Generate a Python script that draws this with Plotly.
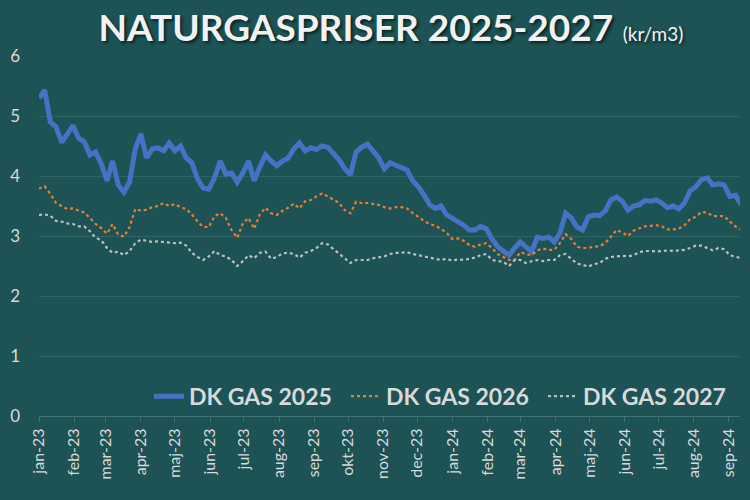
import pandas as pd
import plotly.graph_objects as go

start_date = "2023-01-01"
step = "5D"

dk_gas_2025 = [5.30, 5.43, 4.90, 4.82, 4.56, 4.70, 4.84, 4.63, 4.57, 4.35,
               4.40, 4.20, 3.92, 4.25, 3.85, 3.73, 3.90, 4.45, 4.70, 4.30,
               4.45, 4.47, 4.42, 4.55, 4.42, 4.50, 4.30, 4.22, 3.95, 3.80,
               3.78, 3.97, 4.25, 4.03, 4.05, 3.90, 4.05, 4.25, 3.92, 4.15,
               4.35, 4.25, 4.17, 4.25, 4.30, 4.45, 4.55, 4.42, 4.47, 4.44,
               4.50, 4.48, 4.37, 4.27, 4.12, 4.02, 4.40, 4.48, 4.53, 4.43,
               4.30, 4.12, 4.22, 4.18, 4.13, 4.10, 3.92, 3.82, 3.68, 3.52,
               3.46, 3.50, 3.35, 3.30, 3.24, 3.18, 3.10, 3.10, 3.16, 3.12,
               2.95, 2.82, 2.75, 2.68, 2.80, 2.90, 2.82, 2.74, 2.98, 2.96,
               2.98, 2.90, 3.05, 3.38, 3.30, 3.15, 3.10, 3.32, 3.35, 3.34,
               3.42, 3.60, 3.65, 3.58, 3.43, 3.50, 3.52, 3.59, 3.58, 3.60,
               3.55, 3.47, 3.50, 3.45, 3.55, 3.75, 3.82, 3.94, 3.97, 3.85,
               3.87, 3.85, 3.66, 3.68, 3.52]

dk_gas_2026 = [3.79, 3.83, 3.70, 3.55, 3.50, 3.45, 3.46, 3.43, 3.39, 3.30,
               3.20, 3.13, 3.04, 3.20, 3.02, 2.99, 3.15, 3.45, 3.42, 3.44,
               3.48, 3.50, 3.55, 3.50, 3.53, 3.48, 3.45, 3.36, 3.24, 3.15,
               3.15, 3.33, 3.38, 3.30, 3.10, 2.97, 3.21, 3.30, 3.12, 3.36,
               3.47, 3.38, 3.35, 3.42, 3.47, 3.54, 3.46, 3.58, 3.60, 3.66,
               3.71, 3.66, 3.60, 3.55, 3.43, 3.38, 3.57, 3.55, 3.55, 3.53,
               3.52, 3.48, 3.46, 3.48, 3.48, 3.46, 3.38, 3.32, 3.25, 3.20,
               3.17, 3.12, 3.05, 2.95, 2.96, 2.92, 2.85, 2.82, 2.86, 2.88,
               2.80, 2.70, 2.65, 2.60, 2.60, 2.73, 2.70, 2.68, 2.76, 2.79,
               2.77, 2.77, 2.88, 3.03, 2.95, 2.82, 2.80, 2.80, 2.82, 2.83,
               2.88, 3.00, 3.10, 3.06, 3.00, 3.09, 3.12, 3.16, 3.17, 3.18,
               3.16, 3.11, 3.11, 3.12, 3.18, 3.28, 3.32, 3.40, 3.39, 3.33,
               3.33, 3.33, 3.24, 3.16, 3.10]

dk_gas_2027 = [3.35, 3.36, 3.34, 3.25, 3.24, 3.21, 3.20, 3.16, 3.16, 3.08,
               2.97, 2.93, 2.80, 2.72, 2.74, 2.68, 2.75, 2.88, 2.94, 2.92,
               2.90, 2.91, 2.90, 2.90, 2.88, 2.89, 2.84, 2.72, 2.65, 2.60,
               2.66, 2.75, 2.68, 2.66, 2.60, 2.50, 2.58, 2.68, 2.63, 2.72,
               2.74, 2.62, 2.65, 2.71, 2.72, 2.70, 2.64, 2.72, 2.75, 2.80,
               2.88, 2.86, 2.78, 2.70, 2.62, 2.55, 2.60, 2.60, 2.60, 2.63,
               2.64, 2.66, 2.70, 2.72, 2.72, 2.73, 2.70, 2.68, 2.66, 2.64,
               2.62, 2.60, 2.62, 2.59, 2.61, 2.60, 2.62, 2.64, 2.68, 2.70,
               2.60, 2.58, 2.57, 2.50, 2.60, 2.60, 2.55, 2.58, 2.60, 2.58,
               2.60, 2.60, 2.68, 2.70, 2.62, 2.54, 2.52, 2.49, 2.53, 2.55,
               2.62, 2.65, 2.66, 2.67, 2.66, 2.68, 2.73, 2.75, 2.75, 2.74,
               2.75, 2.76, 2.75, 2.76, 2.77, 2.80, 2.84, 2.84, 2.80, 2.76,
               2.80, 2.78, 2.68, 2.66, 2.63]

tick_dates = ["2023-01-01", "2023-02-01", "2023-03-01", "2023-04-01", "2023-05-01",
              "2023-06-01", "2023-07-01", "2023-08-01", "2023-09-01", "2023-10-01",
              "2023-11-01", "2023-12-01", "2024-01-01", "2024-02-01", "2024-03-01",
              "2024-04-01", "2024-05-01", "2024-06-01", "2024-07-01", "2024-08-01",
              "2024-09-01"]
tick_labels = ["jan-23", "feb-23", "mar-23", "apr-23", "maj-23", "jun-23", "jul-23",
               "aug-23", "sep-23", "okt-23", "nov-23", "dec-23", "jan-24", "feb-24",
               "mar-24", "apr-24", "maj-24", "jun-24", "jul-24", "aug-24", "sep-24"]

y_ticks = [0, 1, 2, 3, 4, 5, 6]

dates = pd.date_range(start_date, periods=len(dk_gas_2025), freq=step)

BG = "#1d5354"
TXT = "#d9d9d9"
FONT = "Lato"

fig = go.Figure()
fig.add_trace(go.Scatter(x=dates, y=dk_gas_2025, mode="lines", name="DK GAS 2025",
                         line=dict(color="#4472c4", width=5)))
fig.add_trace(go.Scatter(x=dates, y=dk_gas_2026, mode="lines", name="DK GAS 2026",
                         line=dict(color="#ed7d31", width=2.2, dash="dot")))
fig.add_trace(go.Scatter(x=dates, y=dk_gas_2027, mode="lines", name="DK GAS 2027",
                         line=dict(color="#bfbfbf", width=2.2, dash="dot")))

fig.update_layout(
    width=750, height=500,
    paper_bgcolor=BG, plot_bgcolor=BG,
    margin=dict(l=37, r=10, t=56, b=84),
    font=dict(family=FONT, color=TXT),
    title=dict(
        text="<b>NATURGASPRISER 2025-2027</b> <span style='font-size:19px;font-weight:normal'>(kr/m3)</span>",
        x=0.502, xanchor="center", xref="paper",
        y=1 - 28 / 500, yanchor="middle", yref="container",
        font=dict(family=FONT, size=37, color="#f2f2f2",
                  shadow="2px 2px 3px rgba(0,0,0,0.6)"),
    ),
    showlegend=True,
    legend=dict(orientation="h", x=1.0, xanchor="right", y=0.055, yanchor="middle",
                bgcolor="rgba(0,0,0,0)",
                font=dict(family=FONT, size=23, color=TXT, weight="bold"),
                itemwidth=30, tracegroupgap=0, entrywidth=152),
    xaxis=dict(
        type="date",
        range=["2023-01-01", "2024-09-11"],
        tickvals=tick_dates, ticktext=tick_labels, tickangle=-90,
        tickfont=dict(family=FONT, size=16, color=TXT),
        showgrid=False, zeroline=False,
        showline=True, linecolor="#3f7172", linewidth=1,
        ticks="outside", ticklen=5, tickcolor="#3f7172",
    ),
    yaxis=dict(
        range=[0, 6], tickvals=y_ticks,
        tickfont=dict(family=FONT, size=17, color=TXT),
        showgrid=True, gridcolor="#2f6465", gridwidth=1,
        zeroline=False, showline=False, ticks="", ticklabelstandoff=18,
    ),
)

fig.write_html("out.html")
